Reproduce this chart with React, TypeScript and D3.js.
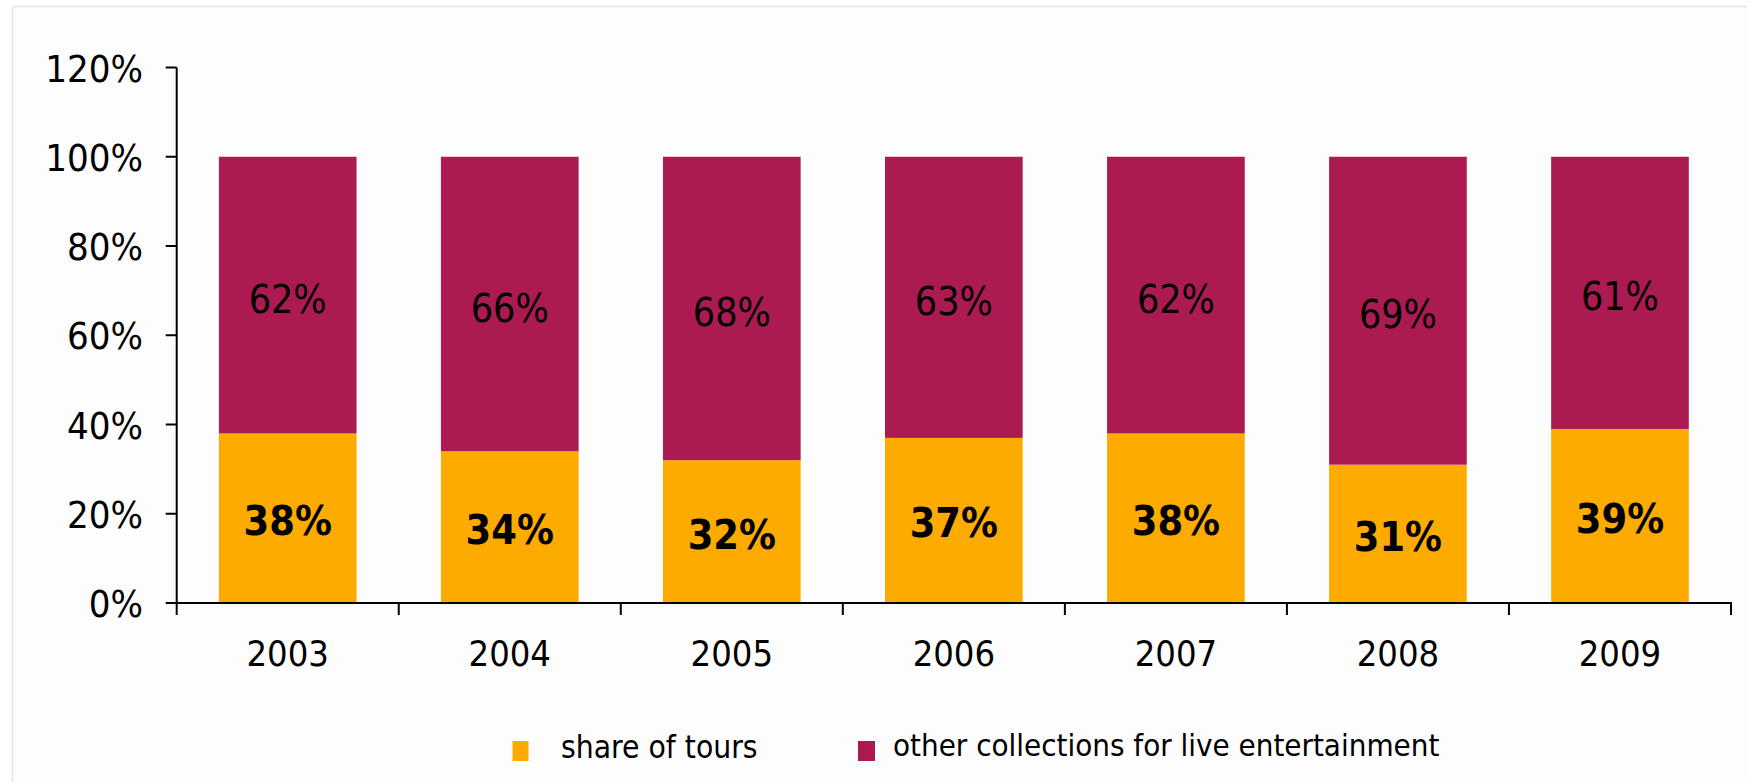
import React from "react";
import * as d3 from "d3";

const years = ["2003", "2004", "2005", "2006", "2007", "2008", "2009"];
const shareOfTours = [38, 34, 32, 37, 38, 31, 39];
const otherCollections = [62, 66, 68, 63, 62, 69, 61];
const yTicks = [0, 20, 40, 60, 80, 100, 120];
const seriesNames = ["share of tours", "other collections for live entertainment"];
const colors = ["#FEAB00", "#AC1A52"];

const W = 1747;
const H = 782;
const FONT = '"DejaVu Sans Condensed", "DejaVu Sans", sans-serif';

export default function App() {
  const x = d3
    .scaleBand<string>()
    .domain(years)
    .range([176.7, 1731])
    .paddingInner(0.38)
    .paddingOuter(0.19);
  const y = d3.scaleLinear().domain([0, 120]).range([603, 67.5]);
  const step = x.step();
  const x0 = 176.7;

  const stackData = years.map((yr, i) => ({
    year: yr,
    tours: shareOfTours[i],
    other: otherCollections[i],
  }));
  const stack = d3.stack<any>().keys(["tours", "other"]);
  const series = stack(stackData);

  return (
    <svg
      width={W}
      height={H}
      style={{ position: "absolute", left: 0, top: 0, background: "#ffffff" }}
      fontFamily={FONT}
    >
      <rect x={12.5} y={6.5} width={W} height={H} fill="#fdfdfd" stroke="#e4e4e4" strokeWidth={1.5} />

      {series.map((s, si) =>
        s.map((d, i) => (
          <rect
            key={`${si}-${i}`}
            x={x(years[i])}
            width={x.bandwidth()}
            y={y(d[1])}
            height={y(d[0]) - y(d[1])}
            fill={colors[si]}
          />
        ))
      )}

      {series.map((s, si) =>
        s.map((d, i) => (
          <text
            key={`l-${si}-${i}`}
            x={(x(years[i]) as number) + x.bandwidth() / 2}
            y={(y(d[0]) + y(d[1])) / 2 + (si === 1 ? 4 : 3)}
            textAnchor="middle"
            dominantBaseline="central"
            fontSize={si === 0 ? 41 : 39}
            fontWeight={si === 0 ? "bold" : "normal"}
            fill="#000"
            style={{ fontStretch: "condensed" }}
          >
            {`${si === 0 ? shareOfTours[i] : otherCollections[i]}%`}
          </text>
        ))
      )}

      {/* y axis */}
      <line x1={x0} x2={x0} y1={y(120)} y2={y(0)} stroke="#000" strokeWidth={2} />
      {yTicks.map((t) => (
        <g key={t}>
          <line x1={x0 - 11} x2={x0} y1={y(t)} y2={y(t)} stroke="#000" strokeWidth={2} />
          <text
            x={143}
            y={y(t) + 1}
            textAnchor="end"
            dominantBaseline="central"
            fontSize={38}
            fill="#000"
            style={{ fontStretch: "condensed" }}
          >
            {`${t}%`}
          </text>
        </g>
      ))}

      {/* x axis */}
      <line x1={x0 - 1} x2={x0 + step * years.length + 1} y1={y(0)} y2={y(0)} stroke="#000" strokeWidth={2} />
      {d3.range(years.length + 1).map((i) => (
        <line
          key={`xt-${i}`}
          x1={x0 + step * i}
          x2={x0 + step * i}
          y1={y(0)}
          y2={y(0) + 12}
          stroke="#000"
          strokeWidth={2}
        />
      ))}
      {years.map((yr) => (
        <text
          key={yr}
          x={(x(yr) as number) + x.bandwidth() / 2}
          y={653}
          textAnchor="middle"
          dominantBaseline="central"
          fontSize={36}
          fill="#000"
          style={{ fontStretch: "condensed" }}
        >
          {yr}
        </text>
      ))}

      {/* legend */}
      <rect x={512.5} y={741} width={16} height={20} fill={colors[0]} />
      <text x={561} y={758} fontSize={31.5} fill="#000" style={{ fontStretch: "condensed" }}>
        {seriesNames[0]}
      </text>
      <rect x={858} y={741} width={17} height={20} fill={colors[1]} />
      <text x={893} y={756} fontSize={31} fill="#000" style={{ fontStretch: "condensed" }}>
        {seriesNames[1]}
      </text>
    </svg>
  );
}
